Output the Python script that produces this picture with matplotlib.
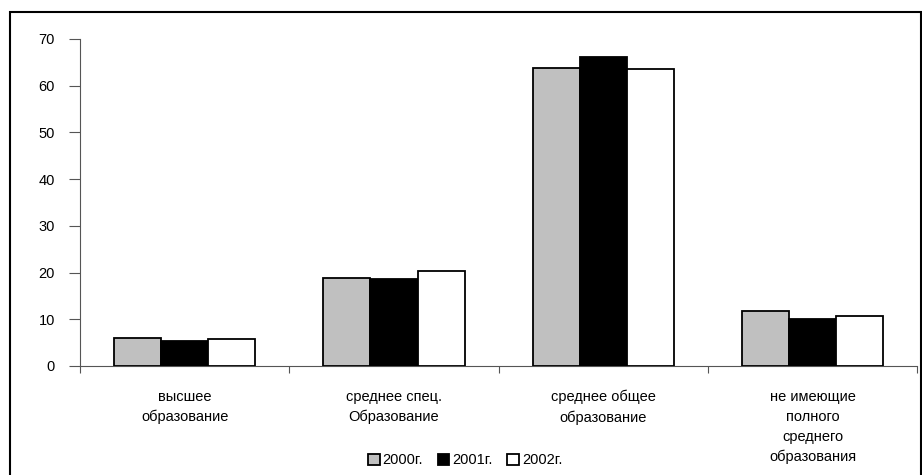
import matplotlib.pyplot as plt
from matplotlib.patches import Rectangle
import numpy as np

plt.rcParams['font.family'] = ['Liberation Sans', 'DejaVu Sans']

categories = ['высшее\nобразование',
              'среднее спец.\nОбразование',
              'среднее общее\nобразование',
              'не имеющие\nполного\nсреднего\nобразования']
years = ['2000г.', '2001г.', '2002г.']
v2000 = [6.0, 18.8, 63.7, 11.7]
v2001 = [5.4, 18.7, 66.2, 10.1]
v2002 = [5.7, 20.3, 63.5, 10.6]
colors = ['#c0c0c0', '#000000', '#ffffff']

fig = plt.figure(figsize=(9.22, 4.75), dpi=100)
ax = fig.add_axes([0.0868, 0.2295, 0.908, 0.6884])

# outer frame of the chart
fig.patches.append(Rectangle((0.011, -0.05), 0.988, 1.025, transform=fig.transFigure,
                             fill=False, edgecolor='black', linewidth=1.5))

x = np.arange(len(categories))
w = 0.225
for i, (vals, c) in enumerate(zip([v2000, v2001, v2002], colors)):
    ax.bar(x + (i - 1) * w, vals, w, color=c, edgecolor='black', linewidth=1.3,
           label=years[i], zorder=3)

ax.set_xlim(-0.5, 3.5)
ax.set_ylim(0, 70)
ax.set_yticks(range(0, 71, 10))
ax.set_xticks(np.arange(-0.5, 4, 1))
ax.set_xticklabels([])
ax.set_xticks(x, minor=True)
ax.set_xticklabels(categories, minor=True, fontsize=10.5, linespacing=1.55)
ax.tick_params(axis='x', which='minor', length=0, pad=17)
ax.tick_params(axis='x', which='major', length=5, color='#555555')
ax.tick_params(axis='y', length=8, color='#555555', labelsize=10.5, pad=10)

for s in ['top', 'right']:
    ax.spines[s].set_visible(False)
for s in ['left', 'bottom']:
    ax.spines[s].set_color('#555555')

ax.legend(loc='lower center', bbox_to_anchor=(0.46, -0.35), ncol=3, frameon=False,
          fontsize=10.5, handlelength=0.8, handleheight=0.8, handletextpad=0.2,
          columnspacing=1.0)

fig.savefig('out.png', dpi=100)
